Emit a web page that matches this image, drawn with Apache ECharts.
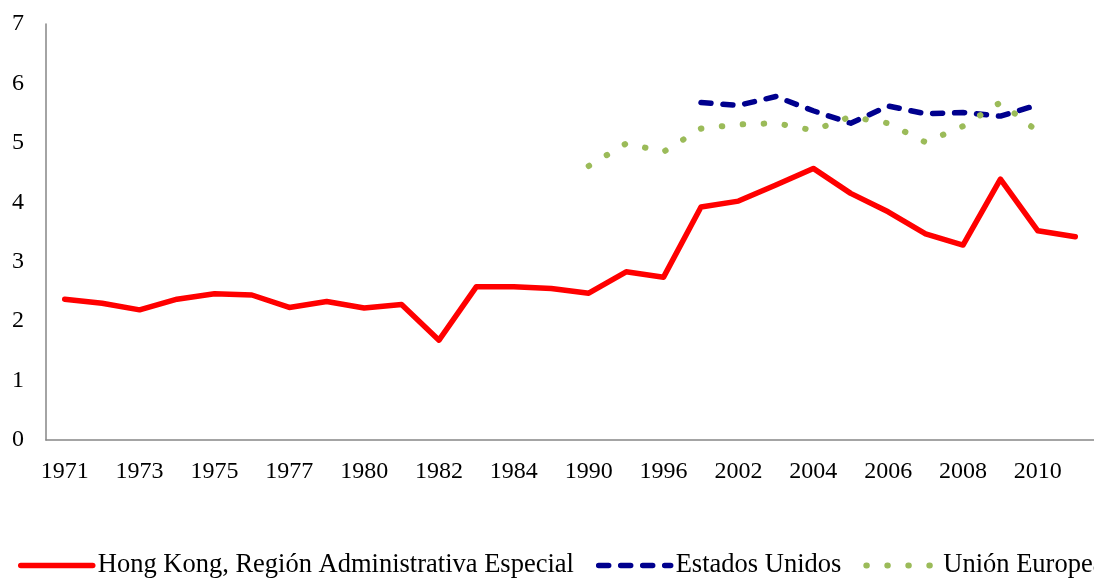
<!DOCTYPE html>
<html>
<head>
<meta charset="utf-8">
<script src="https://cdn.jsdelivr.net/npm/echarts@6/dist/echarts.min.js"></script>
<style>
html,body{margin:0;padding:0;background:#fff;}
#chart{width:1094px;height:579px;}
</style>
</head>
<body>
<div id="chart"></div>
<script>
var categories = ['1971','1972','1973','1974','1975','1976','1977','1978','1980','1981','1982','1983','1984','1985','1990','1995','1996','2000','2002','2003','2004','2005','2006','2007','2008','2009','2010','2011'];
var hongKong = [2.37,2.30,2.19,2.37,2.46,2.44,2.23,2.33,2.22,2.28,1.68,2.58,2.58,2.55,2.47,2.83,2.74,3.92,4.02,4.29,4.57,4.15,3.84,3.47,3.28,4.39,3.52,3.42];
var estadosUnidos = [null,null,null,null,null,null,null,null,null,null,null,null,null,null,null,null,null,5.68,5.63,5.78,5.54,5.33,5.62,5.49,5.51,5.45,5.64,null];
var unionEuropea = [null,null,null,null,null,null,null,null,null,null,null,null,null,null,4.61,4.99,4.85,5.24,5.31,5.33,5.21,5.44,5.33,5.01,5.28,5.68,5.19,null];
var yTicks = {min:0, max:7, interval:1};

var FONT = "'Liberation Serif','Times New Roman',serif";
var HK_STYLE = {color:'#ff0000', width:5.5, type:'solid', cap:'round', join:'round'};
var US_STYLE = {color:'#00008e', width:5.5, type:[10,12], cap:'round', join:'round'};
var EU_STYLE = {color:'#9bbb59', width:6, type:[0.5,20.5], cap:'round', join:'round'};
var HIDDEN_SYMBOL = {opacity:0, color:'rgba(0,0,0,0)', borderWidth:0};

var chart = echarts.init(document.getElementById('chart'), null, {renderer:'canvas'});
chart.setOption({
  animation:false,
  backgroundColor:'#ffffff',
  grid:{left:46, top:24, width:1056, bottom:139, containLabel:false},
  legend:{
    left:18, top:552, width:2000, padding:0,
    itemWidth:72, itemHeight:14, itemGap:22,
    textStyle:{fontFamily:FONT, fontSize:26.5, color:'#000'},
    itemStyle:HIDDEN_SYMBOL,
    data:[
      {name:'Hong Kong, Región Administrativa Especial', lineStyle:HK_STYLE, itemStyle:HIDDEN_SYMBOL},
      {name:'Estados Unidos', lineStyle:US_STYLE, itemStyle:HIDDEN_SYMBOL},
      {name:'Unión Europea', lineStyle:EU_STYLE, itemStyle:HIDDEN_SYMBOL}
    ]
  },
  xAxis:{
    type:'category', data:categories, boundaryGap:true,
    axisLine:{lineStyle:{color:'#868686', width:1.5}},
    axisTick:{show:false},
    axisLabel:{interval:1, margin:20, fontFamily:FONT, fontSize:24, color:'#000'},
    splitLine:{show:false}
  },
  yAxis:{
    type:'value', min:yTicks.min, max:yTicks.max, interval:yTicks.interval,
    axisLine:{show:true, lineStyle:{color:'#868686', width:1.5}},
    axisTick:{show:false},
    axisLabel:{margin:22, fontFamily:FONT, fontSize:24, color:'#000'},
    splitLine:{show:false}
  },
  series:[
    {name:'Hong Kong, Región Administrativa Especial', type:'line', data:hongKong, symbol:'none',
     color:'#ff0000', lineStyle:HK_STYLE},
    {name:'Estados Unidos', type:'line', data:estadosUnidos, symbol:'none',
     color:'#00008e', lineStyle:US_STYLE},
    {name:'Unión Europea', type:'line', data:unionEuropea, symbol:'none',
     color:'#9bbb59', lineStyle:EU_STYLE}
  ]
});
</script>
</body>
</html>
